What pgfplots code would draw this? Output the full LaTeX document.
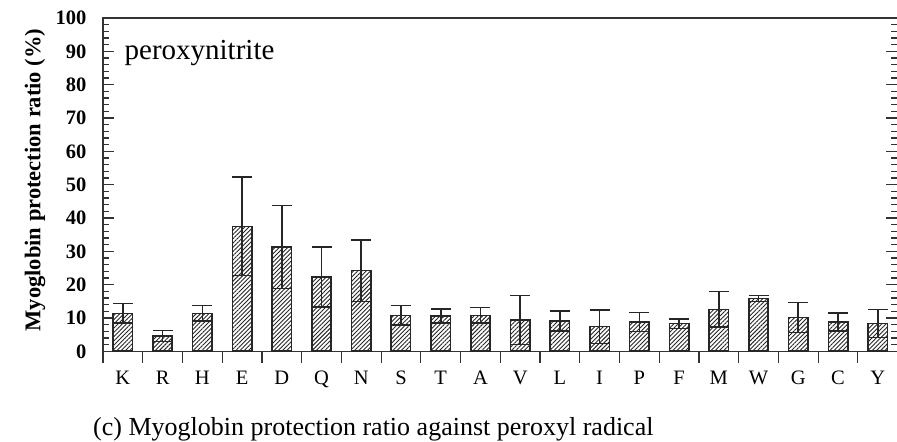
\documentclass[border=0pt]{standalone}
\usepackage{pgfplots}
\pgfplotsset{compat=1.18}
\usepackage{pgfplotstable}
\usepackage{fontspec}
\setmainfont{Liberation Serif}
\usetikzlibrary{patterns.meta}

\pgfplotstableread{
x  y     err
0  11.4  2.9
1  4.6   1.7
2  11.4  2.3
3  37.5  14.8
4  31.3  12.5
5  22.3  9.0
6  24.2  9.2
7  10.8  2.9
8  10.6  2.1
9  10.8  2.3
10 9.4   7.4
11 9.1   3.0
12 7.4   5.0
13 8.8   2.8
14 8.3   1.4
15 12.6  5.3
16 15.8  0.9
17 10.2  4.5
18 8.8   2.7
19 8.3   4.2
}\datatable

\begin{document}
\begin{tikzpicture}
\begin{axis}[
  at={(0,0)}, anchor=south west,
  scale only axis,
  width=794.6bp, height=333.3bp,
  xmin=-0.5, xmax=19.5, ymin=0, ymax=100,
  axis line style={line width=1.3bp, color=black!80},
  every tick/.style={line width=1.2bp, color=black!80},
  tick align=inside,
  xtick pos=bottom, ytick pos=both,
  xtick={-0.5,0.5,...,19.5},
  xticklabels={K,R,H,E,D,Q,N,S,T,A,V,L,I,P,F,M,W,G,C,Y},
  x tick label as interval,
  ytick={0,10,...,100},
  minor y tick num=4,
  major tick length=11.5bp,
  minor tick length=6.5bp,
  /pgf/number format/assume math mode=true,
  yticklabel style={font=\bfseries\fontsize{20.5bp}{24bp}\selectfont, xshift=-13bp},
  xticklabel style={font=\fontsize{20.5bp}{24bp}\selectfont, yshift=-5bp},
  ylabel={Myoglobin protection ratio (\%)},
  ylabel style={font=\bfseries\fontsize{22.5bp}{26bp}\selectfont,
    at={(axis description cs:-0.0856,0.514)}, anchor=center},
  ybar, bar width=19.4bp,
]
\addplot[
  draw=black!85, line width=1.6bp,
  pattern={Lines[angle=45,distance=3bp,line width=0.9bp]}, pattern color=black!85,
  error bars/.cd, y dir=both, y explicit,
  error mark=|,
  error bar style={line width=1.6bp, color=black!85, solid},
  error mark options={line width=1.6bp, color=black!85, mark size=10bp},
] table[x=x, y=y, y error=err] {\datatable};
\node[anchor=base west, inner sep=0pt, font=\fontsize{29bp}{34bp}\selectfont]
  at (axis cs:0.04,87.6) {peroxynitrite};
\end{axis}
\node[anchor=base west, inner sep=0pt, font=\fontsize{26bp}{30bp}\selectfont]
  at (-10bp,-83.7bp) {(c) Myoglobin protection ratio against peroxyl radical};
\pgfresetboundingbox
\path (-103bp,-90.7bp) rectangle (794bp,351.3bp);
\end{tikzpicture}
\end{document}
